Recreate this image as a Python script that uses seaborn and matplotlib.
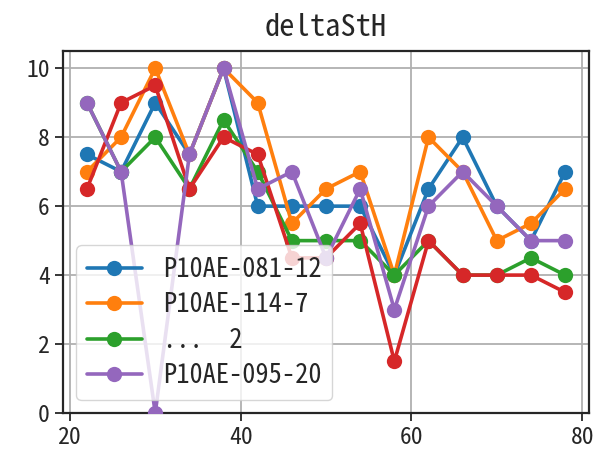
import matplotlib
matplotlib.use('Agg')
import matplotlib.pyplot as plt
import seaborn as sns
import pandas as pd

x = [22, 26, 30, 34, 38, 42, 46, 50, 54, 58, 62, 66, 70, 74, 78]
s_081_12 = [7.5, 7, 9, 7.5, 10, 6, 6, 6, 6, 4, 6.5, 8, 6, 5, 7]
s_114_7 = [7, 8, 10, 7.5, 10, 9, 5.5, 6.5, 7, 4, 8, 7, 5, 5.5, 6.5]
s_2 = [9, 7, 8, 6.5, 8.5, 7, 5, 5, 5, 4, 5, 4, 4, 4.5, 4]
s_red = [6.5, 9, 9.5, 6.5, 8, 7.5, 4.5, 4.5, 5.5, 1.5, 5, 4, 4, 4, 3.5]
s_095_20 = [9, 7, 0, 7.5, 10, 6.5, 7, 4.5, 6.5, 3, 6, 7, 6, 5, 5]

names = ['P10AE-081-12', 'P10AE-114-7', '...  2', '_red', 'P10AE-095-20']
series = [s_081_12, s_114_7, s_2, s_red, s_095_20]
colors = ['#1f77b4', '#ff7f0e', '#2ca02c', '#d62728', '#9467bd']

sns.set_style('ticks')
plt.rcParams['font.family'] = ['Noto Sans Mono CJK SC', 'DejaVu Sans Mono', 'DejaVu Sans']

fig = plt.figure(figsize=(5.98, 4.53), dpi=100)
ax = fig.add_axes([0.1054, 0.0883, 0.8796, 0.7991])

handles = []
for name, vals, c in zip(names, series, colors):
    df = pd.DataFrame({'x': x, 'y': vals})
    sns.lineplot(data=df, x='x', y='y', marker='o', markersize=11, markeredgewidth=0,
                 linewidth=2.6, color=c, ax=ax, zorder=3)
    line = ax.lines[-1]
    if not name.startswith('_'):
        line.set_label(name)
        handles.append(line)

ax.set_ylim(bottom=0)
ax.set_xticks([20, 40, 60, 80])
ax.set_yticks([0, 2, 4, 6, 8, 10])
ax.grid(True, color='#b0b0b0', linewidth=1.3)
ax.set_axisbelow(True)
ax.set_xlabel('')
ax.set_ylabel('')
ax.tick_params(labelsize=17, length=6, width=1.3)
for sp in ax.spines.values():
    sp.set_linewidth(1.6)
ax.set_title('deltaStH', fontsize=22, pad=11)
ax.legend(handles=handles, loc='lower left', fontsize=19, framealpha=0.8,
          labelspacing=0.32, handlelength=2.1)

fig.savefig('out.png', dpi=100)
